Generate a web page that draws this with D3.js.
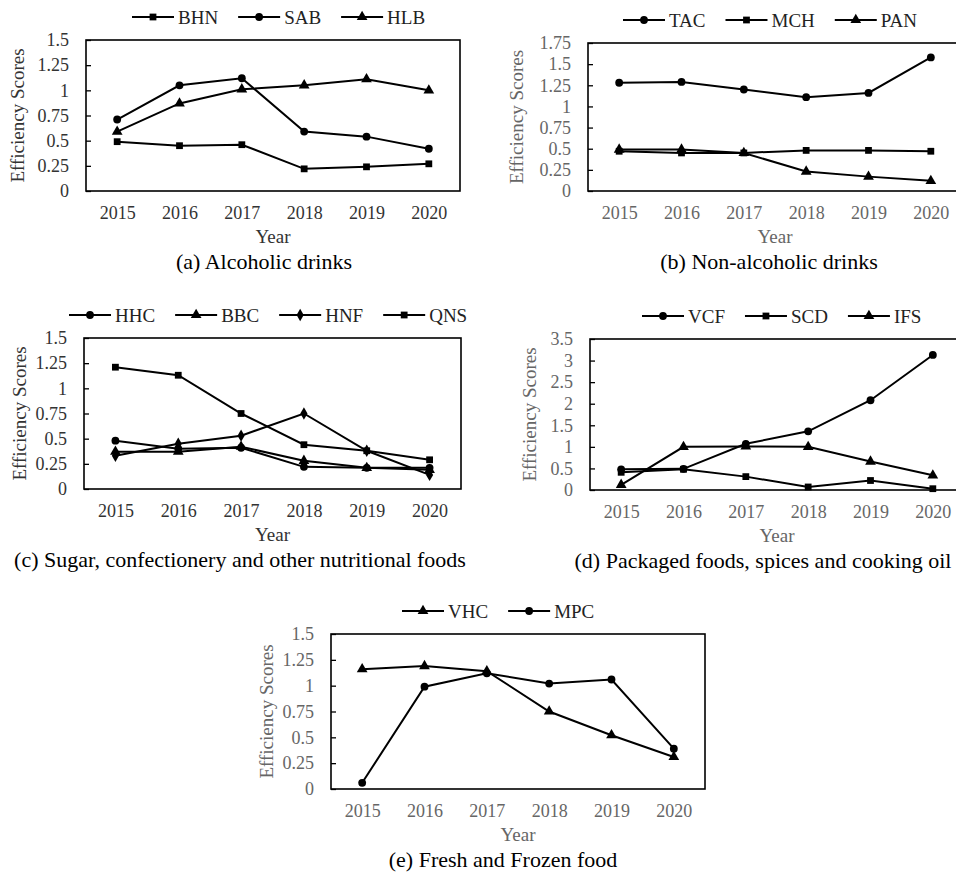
<!DOCTYPE html>
<html>
<head>
<meta charset="utf-8">
<script src="https://cdn.jsdelivr.net/npm/d3@7"></script>
<style>
  body { margin: 0; background: #fff; }
  svg { display: block; }
  svg text { font-family: "Liberation Serif", "DejaVu Serif", serif; }
</style>
</head>
<body>
<div id="chart"></div>
<script>

var years = ["2015", "2016", "2017", "2018", "2019", "2020"];

// (a) Alcoholic drinks
var bhn = [0.49, 0.45, 0.46, 0.22, 0.24, 0.27];
var sab = [0.71, 1.05, 1.12, 0.59, 0.54, 0.42];
var hlb = [0.59, 0.87, 1.01, 1.05, 1.11, 1.00];
var ticksA = [0, 0.25, 0.5, 0.75, 1, 1.25, 1.5];

// (b) Non-alcoholic drinks
var tac = [1.28, 1.29, 1.20, 1.11, 1.16, 1.58];
var mch = [0.47, 0.45, 0.45, 0.48, 0.48, 0.47];
var pan = [0.49, 0.49, 0.45, 0.23, 0.17, 0.12];
var ticksB = [0, 0.25, 0.5, 0.75, 1, 1.25, 1.5, 1.75];

// (c) Sugar, confectionery and other nutritional foods
var hhc = [0.48, 0.40, 0.41, 0.22, 0.21, 0.21];
var bbc = [0.37, 0.37, 0.42, 0.28, 0.21, 0.19];
var hnf = [0.33, 0.45, 0.53, 0.75, 0.38, 0.14];
var qns = [1.21, 1.13, 0.75, 0.44, 0.38, 0.29];
var ticksC = [0, 0.25, 0.5, 0.75, 1, 1.25, 1.5];

// (d) Packaged foods, spices and cooking oil
var vcf = [0.48, 0.49, 1.07, 1.36, 2.08, 3.13];
var scd = [0.41, 0.48, 0.31, 0.07, 0.22, 0.03];
var ifs = [0.12, 1.00, 1.01, 1.00, 0.66, 0.34];
var ticksD = [0, 0.5, 1, 1.5, 2, 2.5, 3, 3.5];

// (e) Fresh and Frozen food
var vhc = [1.16, 1.19, 1.14, 0.75, 0.52, 0.31];
var mpc = [0.06, 0.99, 1.12, 1.02, 1.06, 0.39];
var ticksE = [0, 0.25, 0.5, 0.75, 1, 1.25, 1.5];

var serif = "'Liberation Serif', 'DejaVu Serif', serif";

var shapes = {
  square: d3.symbol().type(d3.symbolSquare).size(46),
  circle: d3.symbol().type(d3.symbolCircle).size(48),
  triangle: d3.symbol().type(d3.symbolTriangle).size(50),
  diamond: d3.symbol().type(d3.symbolDiamond).size(44)
};

var svg = d3.select("#chart").append("svg")
    .attr("width", 956)
    .attr("height", 875)
    .attr("font-family", serif);

var panels = [
  { box: [86, 40, 460, 191], ticks: ticksA, legendX: 132, yLabelX: 18, captionX: 264, caption: "(a) Alcoholic drinks", grey: "#333",
    series: [["BHN", bhn, "square"], ["SAB", sab, "circle"], ["HLB", hlb, "triangle"]] },
  { box: [588, 43, 962, 191], ticks: ticksB, legendX: 623, yLabelX: 517, captionX: 769, caption: "(b) Non-alcoholic drinks", grey: "#666",
    series: [["TAC", tac, "circle"], ["MCH", mch, "square"], ["PAN", pan, "triangle"]] },
  { box: [84, 338, 461, 489], ticks: ticksC, legendX: 69, yLabelX: 20, captionX: 240, caption: "(c) Sugar, confectionery and other nutritional foods", grey: "#333",
    series: [["HHC", hhc, "circle"], ["BBC", bbc, "triangle"], ["HNF", hnf, "diamond"], ["QNS", qns, "square"]] },
  { box: [590, 339, 964, 490], ticks: ticksD, legendX: 642, yLabelX: 530, captionX: 763, caption: "(d) Packaged foods, spices and cooking oil", grey: "#666",
    series: [["VCF", vcf, "circle"], ["SCD", scd, "square"], ["IFS", ifs, "triangle"]] },
  { box: [331, 634, 705, 789], ticks: ticksE, legendX: 402, yLabelX: 267, captionX: 503, caption: "(e) Fresh and Frozen food", grey: "#666",
    series: [["VHC", vhc, "triangle"], ["MPC", mpc, "circle"]] }
];

panels.forEach(drawPanel);

function drawPanel(p) {
  var left = p.box[0], top = p.box[1], right = p.box[2], bottom = p.box[3];
  var cx = (left + right) / 2;

  var x = d3.scalePoint().domain(years).range([left, right]).padding(0.5);
  var y = d3.scaleLinear().domain([0, d3.max(p.ticks)]).range([bottom, top]);

  var g = svg.append("g");

  // y axis with inward ticks
  var yAxis = g.append("g")
      .attr("transform", "translate(" + left + ",0)")
      .call(d3.axisLeft(y).tickValues(p.ticks).tickSizeInner(-5).tickSizeOuter(0)
        .tickPadding(17).tickFormat(function (d) { return String(d); }))
      .attr("font-family", serif).attr("font-size", 18);
  yAxis.select(".domain").remove();
  yAxis.selectAll(".tick line").attr("stroke", "#000").attr("stroke-width", 1.3);
  yAxis.selectAll("text").attr("fill", p.grey);

  // x axis, labels only
  var xAxis = g.append("g")
      .attr("transform", "translate(0," + bottom + ")")
      .call(d3.axisBottom(x).tickSize(0).tickPadding(15))
      .attr("font-family", serif).attr("font-size", 18);
  xAxis.select(".domain").remove();
  xAxis.selectAll("text").attr("fill", p.grey);

  // plot border
  g.append("rect")
      .attr("x", left).attr("y", top)
      .attr("width", right - left).attr("height", bottom - top)
      .attr("fill", "none").attr("stroke", "#000").attr("stroke-width", 1.6);

  var line = d3.line()
      .x(function (d, i) { return x(years[i]); })
      .y(function (d) { return y(d); });

  p.series.forEach(function (s) {
    g.append("path")
        .attr("d", line(s[1]))
        .attr("fill", "none").attr("stroke", "#000").attr("stroke-width", 2);
    g.selectAll(null).data(s[1]).enter().append("path")
        .attr("transform", function (d, i) { return "translate(" + x(years[i]) + "," + y(d) + ")"; })
        .attr("d", shapes[s[2]]())
        .attr("fill", "#000");
  });

  // legend
  var lx = p.legendX, ly = top - 23;
  p.series.forEach(function (s) {
    var item = g.append("g").attr("transform", "translate(" + lx + "," + ly + ")");
    item.append("line").attr("x1", 0).attr("x2", 42).attr("y1", 0).attr("y2", 0)
        .attr("stroke", "#000").attr("stroke-width", 2);
    item.append("path").attr("transform", "translate(21,0)").attr("d", shapes[s[2]]()).attr("fill", "#000");
    var t = item.append("text").attr("x", 46).attr("y", 6.5)
        .attr("font-size", 19).attr("fill", "#222").text(s[0]);
    lx += 46 + t.node().getComputedTextLength() + 20;
  });

  g.append("text")
      .attr("x", cx).attr("y", bottom + 52)
      .attr("text-anchor", "middle").attr("font-size", 19).attr("fill", p.grey)
      .text("Year");

  g.append("text")
      .attr("transform", "translate(" + (p.yLabelX + 6) + "," + ((top + bottom) / 2) + ") rotate(-90)")
      .attr("text-anchor", "middle").attr("font-size", 19).attr("fill", p.grey)
      .text("Efficiency Scores");

  g.append("text")
      .attr("x", p.captionX).attr("y", bottom + 78)
      .attr("text-anchor", "middle").attr("font-size", 22).attr("fill", "#000")
      .text(p.caption);
}
</script>
</body>
</html>
